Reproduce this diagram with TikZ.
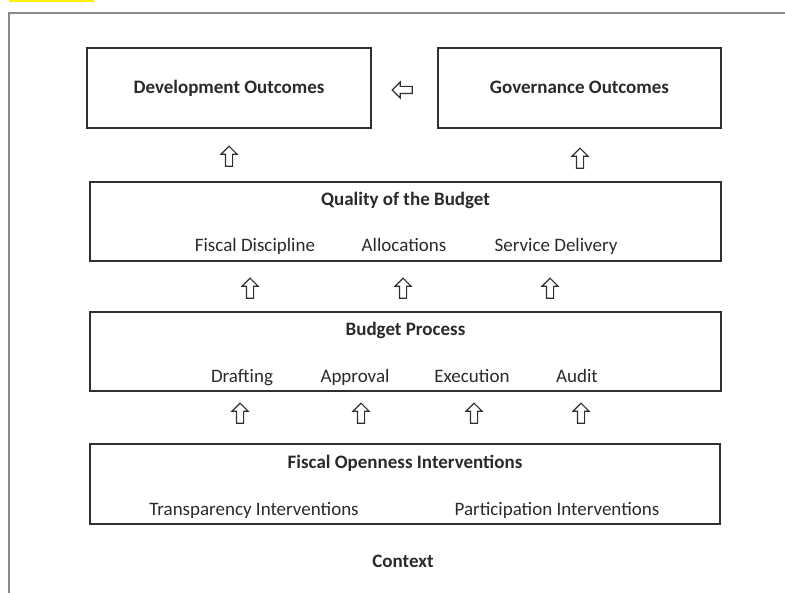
\documentclass[tikz,border=0pt]{standalone}
\usepackage{fontspec}
\setmainfont{Carlito}
\usetikzlibrary{shapes.arrows}
\definecolor{boxcol}{HTML}{303030}
\definecolor{txtcol}{HTML}{2A2A2A}
\definecolor{framecol}{HTML}{8A8A8A}
\tikzset{
  box/.style={draw=boxcol, line width=2pt, rectangle, inner sep=0pt},
  title/.style={font=\fontsize{19}{23}\selectfont\bfseries, text=txtcol, inner sep=0pt, anchor=base},
  item/.style={font=\fontsize{19}{23}\selectfont, text=txtcol, inner sep=0pt, anchor=base},
  blockarrow/.style={single arrow, draw=boxcol, line width=1.1pt, inner sep=3pt,
    minimum height=20pt, single arrow head extend=4.5pt, fill=white}
}
\begin{document}
\begin{tikzpicture}[x=1pt,y=-1pt]
\useasboundingbox (0,0) rectangle (785,593);
% cut-off caption highlight and outer frame
\fill[yellow] (9,0) rectangle (94,2.5);
\draw[framecol, line width=1.2pt] (9,593) -- (9,13) -- (785,13);
% top boxes
\node[box, minimum width=284pt, minimum height=80pt] (dev) at (229,88) {};
\node[title] (devt) at (229,94) {Development Outcomes};
\node[box, minimum width=283pt, minimum height=80pt] (gov) at (579.5,88) {};
\node[title] (govt) at (579.5,94) {Governance Outcomes};
\node[blockarrow, rotate=180] (a0) at (404,90) {};
% up arrows to top boxes
\node[blockarrow, rotate=90] (a1) at (229,158) {};
\node[blockarrow, rotate=90] (a2) at (580,160) {};
% Quality of the Budget
\node[box, minimum width=631pt, minimum height=79pt] (qb) at (405.5,221.5) {};
\node[title] (qbt) at (405.5,206) {Quality of the Budget};
\node[item] (fd) at (255,252) {Fiscal Discipline};
\node[item] (al) at (404,252) {Allocations};
\node[item] (sd) at (556,252) {Service Delivery};
\node[blockarrow, rotate=90] (b1) at (250,290) {};
\node[blockarrow, rotate=90] (b2) at (403,290) {};
\node[blockarrow, rotate=90] (b3) at (550,290) {};
% Budget Process
\node[box, minimum width=631pt, minimum height=79pt] (bp) at (405.5,351.5) {};
\node[title] (bpt) at (405.5,336) {Budget Process};
\node[item] (dr) at (242,383) {Drafting};
\node[item] (ap) at (355,383) {Approval};
\node[item] (ex) at (472,383) {Execution};
\node[item] (au) at (577,383) {Audit};
\node[blockarrow, rotate=90] (c1) at (240,415) {};
\node[blockarrow, rotate=90] (c2) at (361,415) {};
\node[blockarrow, rotate=90] (c3) at (474,415) {};
\node[blockarrow, rotate=90] (c4) at (581,415) {};
% Fiscal Openness Interventions
\node[box, minimum width=630pt, minimum height=80pt] (fo) at (405,484) {};
\node[title] (fot) at (405,469) {Fiscal Openness Interventions};
\node[item] (ti) at (254,515) {Transparency Interventions};
\node[item] (pi) at (557,515) {Participation Interventions};
% Context
\node[title] (ctx) at (403,567) {Context};
\end{tikzpicture}
\end{document}
